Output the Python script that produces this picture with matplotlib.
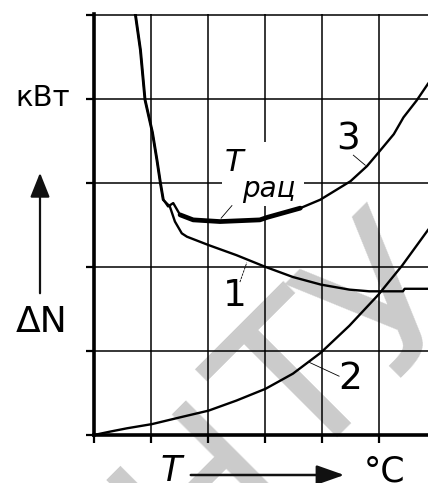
import matplotlib
matplotlib.use("Agg")
import matplotlib.pyplot as plt
from matplotlib.patches import Rectangle, FancyArrowPatch
import numpy as np

# --- data (x: temperature in grid units, y: power loss ΔN in grid units) ---
t1 = [0.72, 0.81, 0.89, 1.02, 1.10, 1.16, 1.21, 1.33, 1.42, 1.54, 1.63, 2.01,
      2.50, 3.01, 3.49, 3.98, 4.48, 4.83, 5.42, 5.45, 5.86]
n1 = [5.01, 4.58, 3.99, 3.60, 3.27, 3.00, 2.80, 2.72, 2.54, 2.40, 2.36, 2.26,
      2.14, 2.00, 1.88, 1.79, 1.73, 1.71, 1.71, 1.74, 1.74]

t2 = [0.0, 0.28, 0.58, 1.02, 1.51, 2.01, 2.50, 3.01, 3.49, 3.98, 4.48, 4.99,
      5.41, 5.86]
n2 = [0.0, 0.04, 0.08, 0.13, 0.21, 0.29, 0.41, 0.55, 0.73, 0.98, 1.30, 1.67,
      2.02, 2.44]

t3 = [0.73, 0.82, 0.90, 1.03, 1.11, 1.17, 1.22, 1.30, 1.39, 1.51, 1.74, 2.21,
      2.91, 3.04, 3.62, 3.97, 4.50, 4.79, 4.99, 5.26, 5.43, 5.66, 5.86]
n3 = [5.01, 4.58, 3.99, 3.60, 3.27, 3.00, 2.80, 2.72, 2.76, 2.62, 2.56, 2.54,
      2.56, 2.59, 2.70, 2.80, 3.02, 3.20, 3.36, 3.58, 3.78, 3.98, 4.18]

# optimal-temperature range drawn bold on curve 3
t_opt_range = (1.5, 3.7)

x_ticks = [0, 1, 2, 3, 4, 5]
y_ticks = [0, 1, 2, 3, 4, 5]

W, H = 428, 483
fig = plt.figure(figsize=(W / 100, H / 100), dpi=100)
fig.patch.set_facecolor("white")


def fx(px):
    return px / W


def fy(py):
    return 1 - py / H


narrow = dict(family=["DejaVu Sans"])

# background watermark letters
for letter, (px, py) in (("Н", (245, 531)), ("Т", (345, 431)), ("У", (430, 345))):
    fig.text(fx(px), fy(py), letter, rotation=45, rotation_mode="anchor",
             ha="center", va="baseline", fontsize=146, color="#cbcbcb",
             family="DejaVu Sans", zorder=-1)

ax = fig.add_axes([fx(94), 48 / H, (W - 94) / W, (435 - 14) / H])
ax.patch.set_visible(False)
ax.set_xlim(0, 5.86)
ax.set_ylim(0, 5.01)
ax.set_xticks(x_ticks)
ax.set_yticks(y_ticks)
ax.set_xticklabels([])
ax.set_yticklabels([])
ax.tick_params(axis="x", direction="out", length=5.5, width=1.6, color="black")
ax.tick_params(axis="y", direction="out", length=6, width=1.6, color="black")
ax.grid(True, color="black", linewidth=1.1)
for s in ("top", "right"):
    ax.spines[s].set_visible(False)
for s in ("left", "bottom"):
    ax.spines[s].set_linewidth(2.6)
    ax.spines[s].set_color("black")

# white field behind the T_opt label
ax.add_patch(Rectangle((2.25, 2.73), 1.43, 0.76, facecolor="white",
                       edgecolor="none", zorder=2))

lw = 1.7
for tx, ny in ((t1, n1), (t2, n2), (t3, n3)):
    ax.plot(tx, ny, color="black", lw=lw, zorder=3, solid_joinstyle="round")
t3a = np.array(t3)
n3a = np.array(n3)
m = (t3a >= t_opt_range[0]) & (t3a <= t_opt_range[1])
ax.plot(t3a[m], n3a[m], color="black", lw=3.4, zorder=3,
        solid_capstyle="round", solid_joinstyle="round")

# curve labels with leader lines
lab = dict(color="black", fontsize=27, ha="center", va="center", zorder=4, **narrow)
ax.text(4.45, 3.52, "3", **lab)
ax.plot([4.55, 4.76], [3.33, 3.21], color="black", lw=0.6, zorder=4)
ax.text(2.47, 1.65, "1", **lab)
ax.plot([2.56, 2.68], [1.82, 2.05], color="black", lw=0.6, ls=(0, (3, 1)), zorder=4)
ax.text(4.49, 0.67, "2", **lab)
ax.plot([3.76, 4.30], [0.87, 0.70], color="black", lw=0.6, zorder=4)

ax.text(2.46, 3.24, "T", fontsize=22, style="italic", ha="center", va="center",
        zorder=4, **narrow)
ax.text(3.07, 2.93, "рац", fontsize=20, style="italic", ha="center",
        va="center", zorder=4, **narrow)
ax.plot([2.42, 2.23], [2.73, 2.58], color="black", lw=0.6, zorder=4)

# axis annotations
fig.text(fx(43), fy(98), "кВт", fontsize=21, ha="center", va="center", **narrow)
fig.text(fx(42), fy(322), "ΔN", fontsize=26, ha="center", va="center", **narrow)
fig.add_artist(FancyArrowPatch(
    (fx(40), fy(296)), (fx(40), fy(170)), transform=fig.transFigure,
    arrowstyle="-|>,head_length=0.75,head_width=0.3", mutation_scale=20,
    color="#111111", lw=1.6))

fig.text(fx(171), fy(481), "T", fontsize=25, style="italic", ha="center",
         va="baseline", **narrow)
fig.text(fx(364), fy(481), "°C", fontsize=25, ha="left", va="baseline", **narrow)
fig.add_artist(FancyArrowPatch(
    (fx(188), fy(475)), (fx(347), fy(475)), transform=fig.transFigure,
    arrowstyle="-|>,head_length=0.85,head_width=0.3", mutation_scale=20,
    color="#111111", lw=1.8))

fig.savefig("out.png", dpi=100)
